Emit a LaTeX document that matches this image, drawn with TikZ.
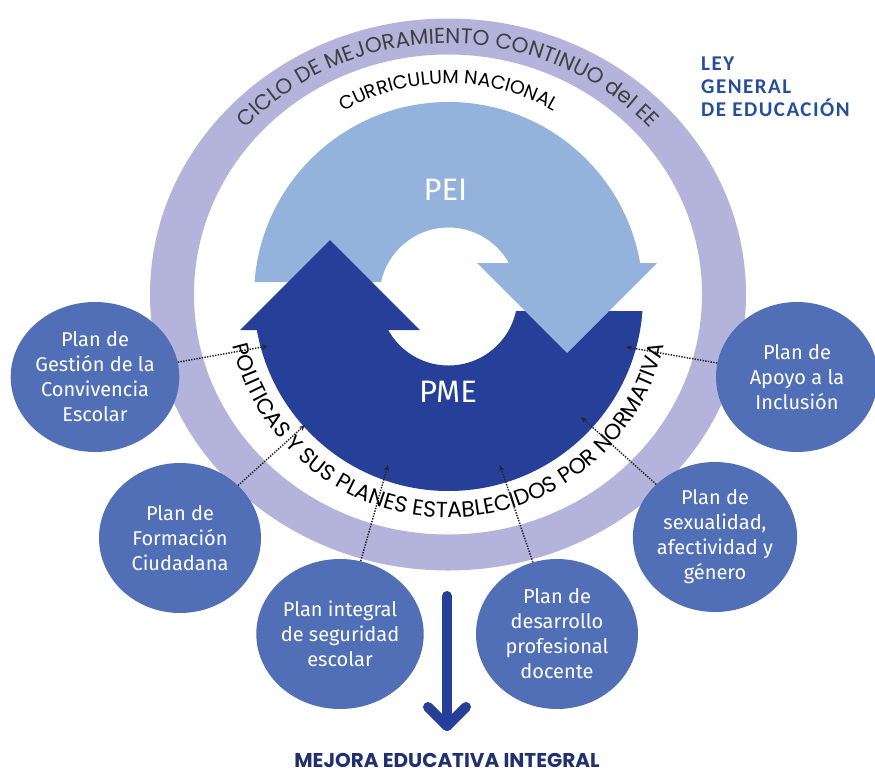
\documentclass[tikz,border=0pt]{standalone}
\usepackage{fontspec}
\setmainfont{Fira Sans}
\newfontfamily\ringfont{Poppins}
\newfontfamily\leyfont{Carlito}[LetterSpace=7]
\usetikzlibrary{decorations.text,shapes.geometric,arrows.meta}

\definecolor{ringlav}{RGB}{179,179,219}
\definecolor{peiblue}{RGB}{147,179,220}
\definecolor{pmeblue}{RGB}{38,63,153}
\definecolor{planblue}{RGB}{80,111,183}
\definecolor{leyblue}{RGB}{38,78,155}
\definecolor{mejoranavy}{RGB}{35,48,110}

\tikzset{
  plan/.style={ellipse, fill=planblue, text=white, minimum width=162pt, minimum height=150pt,
    inner sep=0pt, align=center, font=\fontsize{20}{25}\selectfont},
  link/.style={line width=1.5pt, black!85, dash pattern=on 1.4pt off 1.3pt,
    -{Stealth[length=6pt, width=5pt]}},
  bigarrow/.style={pmeblue, line width=10pt, line cap=round, line join=round},
}

\begin{document}
\begin{tikzpicture}[x=1pt, y=1pt]
    \useasboundingbox (0,0) rectangle (875,-774);
    % Outer ring
    \fill[ringlav, even odd rule] (448,-294.5) ellipse[x radius=298, y radius=276]
        (448,-294.5) ellipse[x radius=254, y radius=240];
    \path[decorate, decoration={text along path, text align=center, text color=black!75,
        text={|\ringfont\fontsize{21.5}{21.5}\selectfont|CICLO DE MEJORAMIENTO CONTINUO del EE}}]
        (448,-294.5) ++(180:269 and 251) arc[start angle=180, end angle=0, x radius=269, y radius=251];
    % Cycle PEI / PME
    \begin{scope}[shift={(448.5,-296.5)}]
        \begin{scope}
            \clip (-210,14.5) -- (0,14.5) -- (0,33.5) -- (210,33.5) -- (210,210) -- (-210,210) -- cycle;
            \fill[peiblue, even odd rule] (0,0) circle[radius=194.5] (0,0) circle[radius=69];
        \end{scope}
        \begin{scope}
            \clip (210,-14.5) -- (0,-14.5) -- (0,-33.5) -- (-210,-33.5) -- (-210,-210) -- (210,-210) -- cycle;
            \fill[pmeblue, even odd rule] (0,0) circle[radius=194.5] (0,0) circle[radius=69];
        \end{scope}
        \fill[peiblue] (28.5,33.5) -- (208.5,33.5) -- (118.5,-56.5) -- cycle;
        \fill[pmeblue] (-28.5,-33.5) -- (-208.5,-33.5) -- (-118.5,56.5) -- cycle;
        \node[text=white, font=\fontsize{31}{31}\selectfont] (pei) at (-3,106.5) {PEI};
        \node[text=white, font=\fontsize{31}{31}\selectfont] (pme) at (-0.5,-95.5) {PME};
        \path[decorate, decoration={text along path, text align=center, text color=black,
            text={|\ringfont\fontsize{19}{19}\selectfont|CURRICULUM NACIONAL}}]
            (180:213) arc[start angle=180, end angle=0, radius=213];
        \path[decorate, decoration={text along path, text align=center, text color=black,
            text={|\ringfont\fontsize{22}{22}\selectfont|POLITICAS Y SUS PLANES ESTABLECIDOS POR NORMATIVA}}]
            (180:221) arc[start angle=180, end angle=360, radius=221];
    \end{scope}
    % Plans
    \node[plan] (gestion) at (95,-377) {Plan de\\Gestión de la\\Convivencia\\Escolar};
    \node[plan] (formacion) at (180,-538) {Plan de\\Formación\\Ciudadana};
    \node[plan] (seguridad) at (340,-634) {Plan integral\\de seguridad\\escolar};
    \node[plan] (desarrollo) at (557,-634) {Plan de\\desarrollo\\profesional\\docente};
    \node[plan] (sexualidad) at (715,-537) {Plan de\\sexualidad,\\afectividad y\\género};
    \node[plan] (inclusion) at (797,-377) {Plan de\\Apoyo a la\\Inclusión};
    % Links to PME
    \foreach \n/\x/\y in {inA/268/346, inB/305/425, inC/388/465, inD/500/465, inE/581/417, inF/626/347}
        \coordinate (\n) at (\x,-\y);
    \foreach \p/\n in {gestion/inA, formacion/inB, seguridad/inC, desarrollo/inD, sexualidad/inE, inclusion/inF}
        \draw[link] (\p) -- (\n);
    % Result
    \node[anchor=base, inner sep=0pt, text=mejoranavy, font=\ringfont\bfseries\fontsize{20}{20}\selectfont]
        (mejora) at (447,-767) {MEJORA EDUCATIVA INTEGRAL};
    \coordinate (arrowtop) at (447,-596);
    \coordinate (arrowtip) at (447,-726);
    \draw[bigarrow] (arrowtop) -- (arrowtip);
    \draw[bigarrow] (arrowtip) ++(-19,19) -- (arrowtip) -- ++(19,19);
    \node[anchor=north west, align=left, text=leyblue, inner sep=0pt,
        font=\leyfont\bfseries\fontsize{21}{22.7}\selectfont] (ley) at (701,-57) {LEY\\GENERAL\\DE EDUCACIÓN};
\end{tikzpicture}
\end{document}
